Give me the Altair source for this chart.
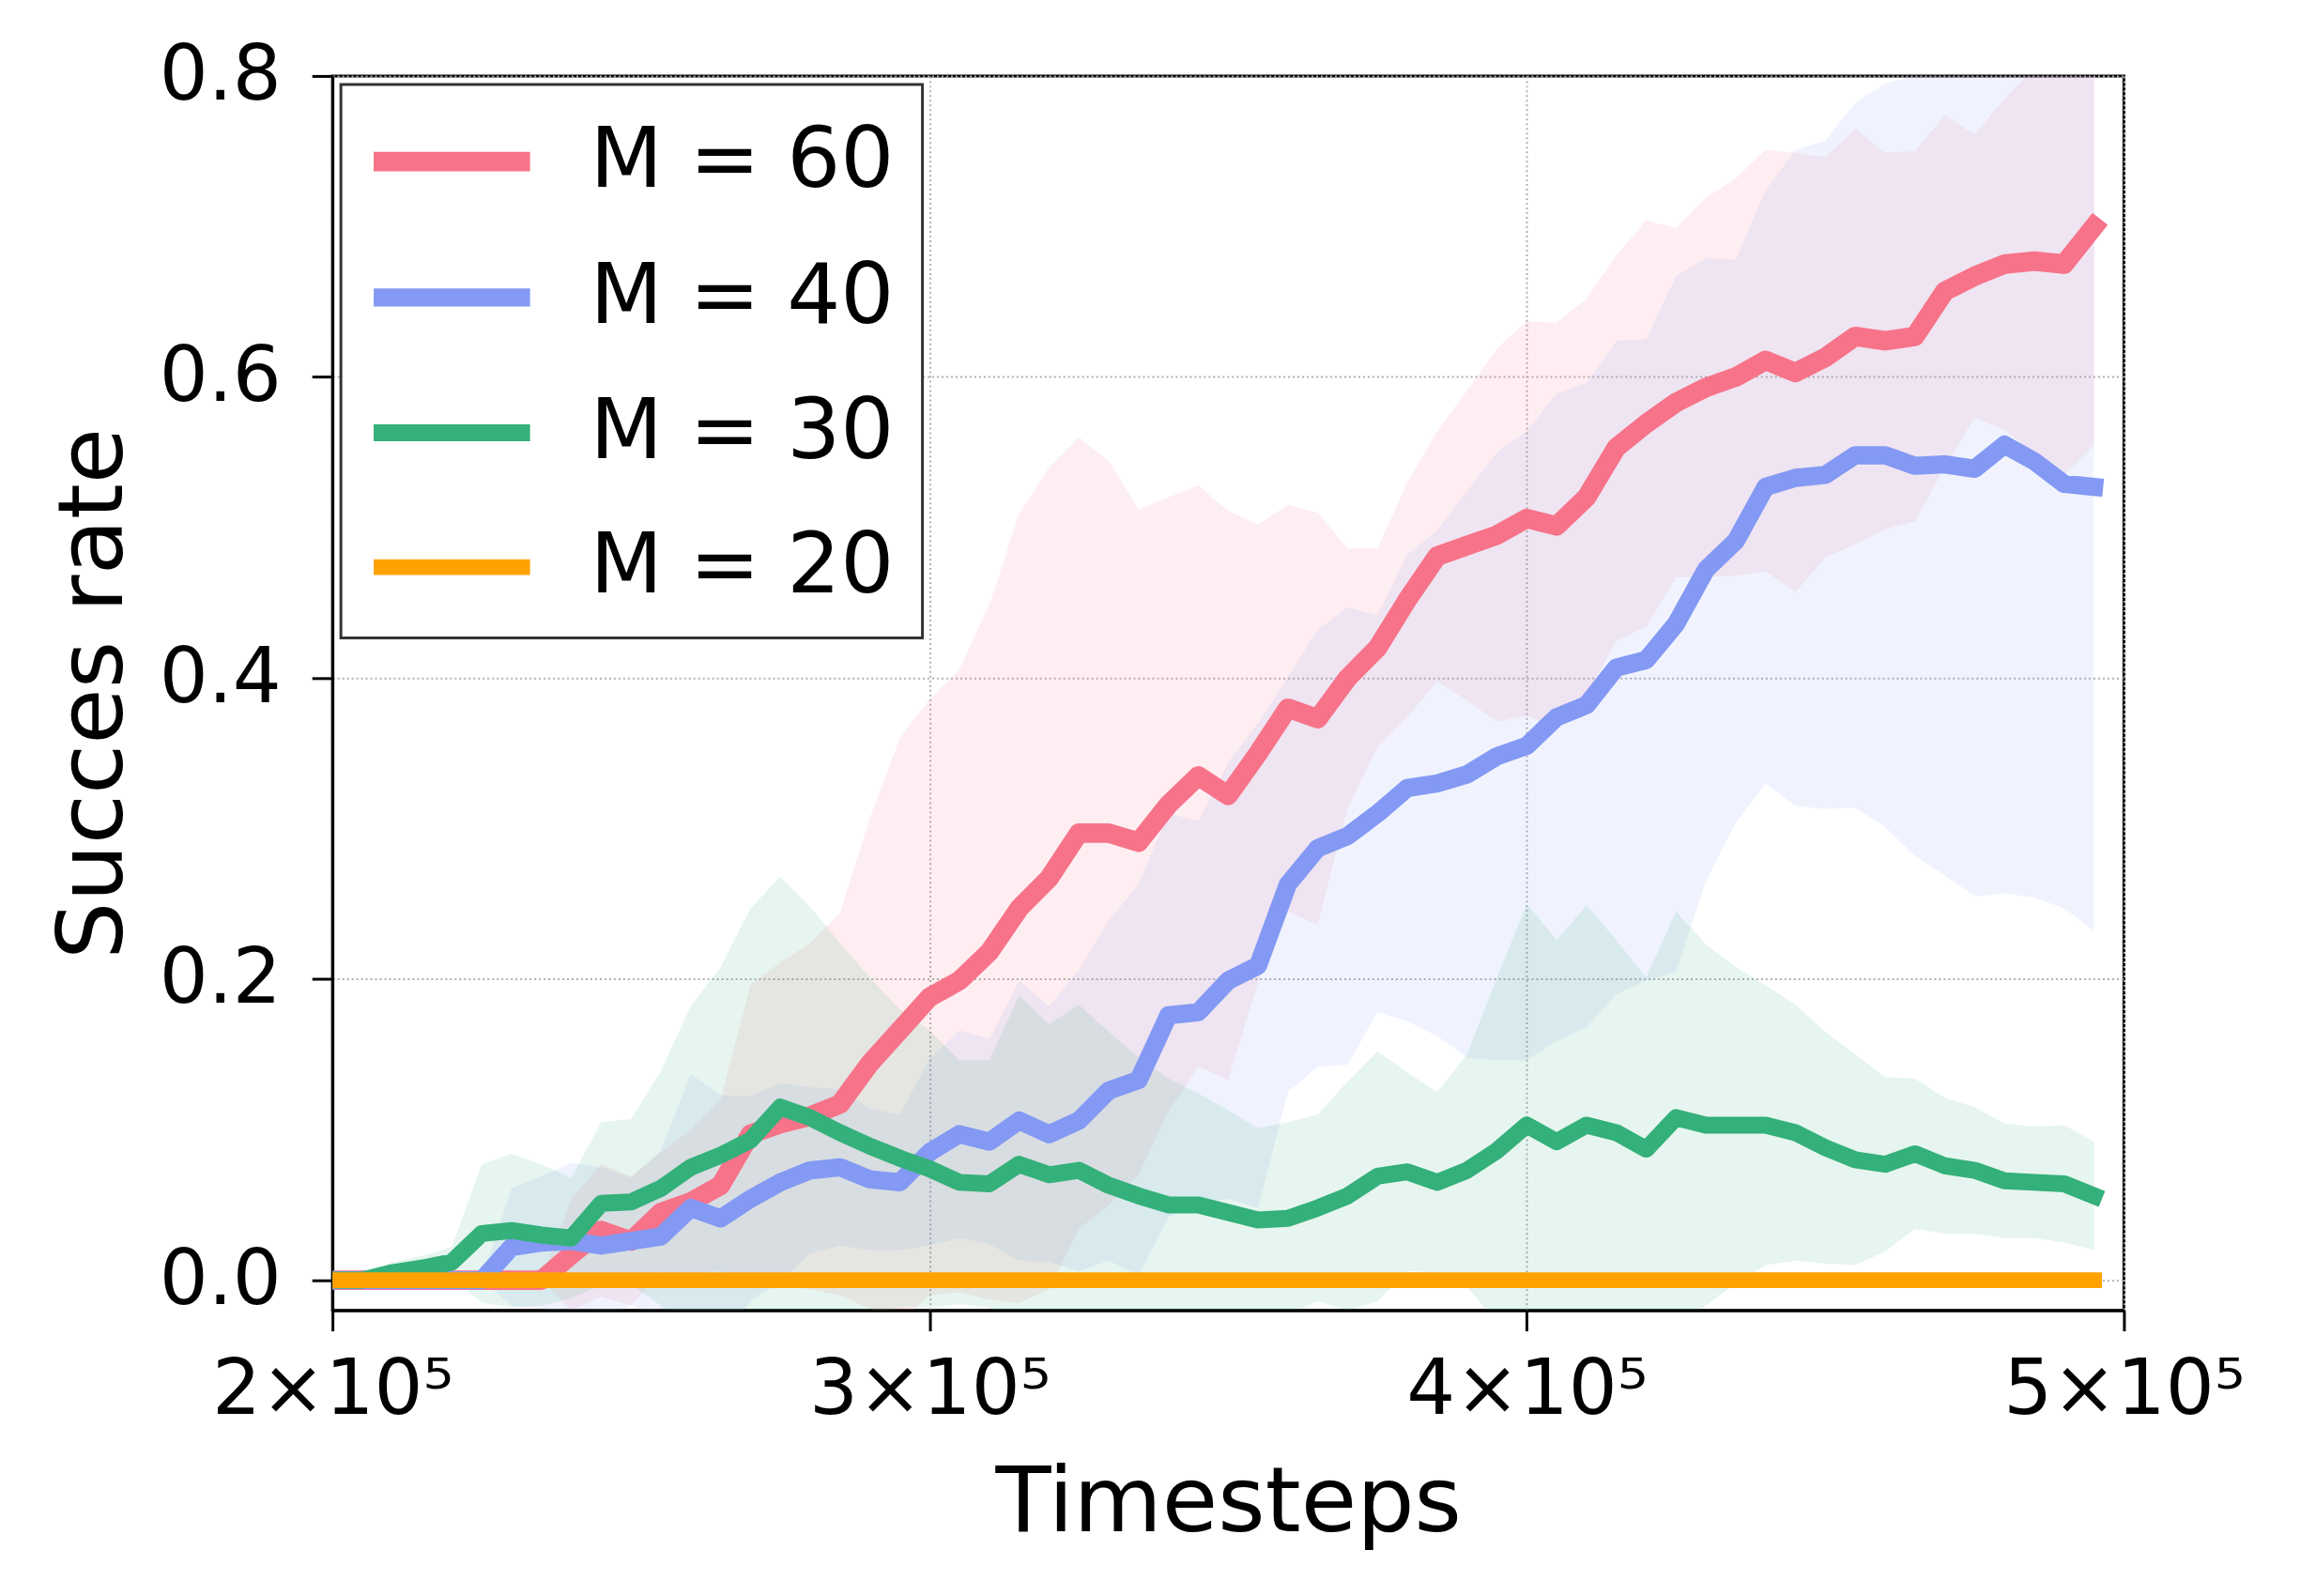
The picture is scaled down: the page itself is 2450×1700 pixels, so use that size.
import altair as alt
import pandas as pd

# ---------------- data ----------------
steps = list(range(200000, 500000, 5000))  # 60 evaluation points

names = ["M = 60", "M = 40", "M = 30", "M = 20"]
colors = ["#f7738a", "#8399f3", "#34b07a", "#ffa200"]
line_widths = [20.8, 16.7, 16.7, 16.7]

m60_mean = [0, 0, 0, 0, 0, 0, 0, 0, 0.017, 0.033,
            0.026, 0.045, 0.052, 0.063, 0.097, 0.104, 0.109, 0.117, 0.144, 0.166,
            0.188, 0.199, 0.218, 0.247, 0.267, 0.297, 0.297, 0.291, 0.316, 0.335,
            0.322, 0.350, 0.380, 0.373, 0.400, 0.420, 0.452, 0.481, 0.488, 0.495,
            0.506, 0.501, 0.520, 0.553, 0.569, 0.583, 0.593, 0.600, 0.611, 0.603,
            0.613, 0.627, 0.624, 0.627, 0.657, 0.667, 0.675, 0.677, 0.675, 0.700]
m60_std = [0, 0, 0, 0, 0, 0, 0, 0, 0.037, 0.044,
           0.043, 0.040, 0.048, 0.057, 0.099, 0.107, 0.115, 0.127, 0.163, 0.194,
           0.198, 0.207, 0.231, 0.262, 0.273, 0.263, 0.247, 0.221, 0.204, 0.193,
           0.189, 0.152, 0.135, 0.137, 0.086, 0.066, 0.078, 0.083, 0.103, 0.124,
           0.131, 0.135, 0.132, 0.128, 0.135, 0.116, 0.126, 0.132, 0.140, 0.146,
           0.133, 0.138, 0.125, 0.123, 0.117, 0.094, 0.110, 0.128, 0.140, 0.145]

m40_mean = [0, 0, 0, 0, 0, 0, 0.022, 0.025, 0.026, 0.023,
            0.026, 0.029, 0.048, 0.041, 0.054, 0.065, 0.073, 0.075, 0.067, 0.065,
            0.085, 0.097, 0.092, 0.106, 0.097, 0.106, 0.126, 0.133, 0.176, 0.178,
            0.199, 0.209, 0.263, 0.287, 0.295, 0.310, 0.327, 0.330, 0.336, 0.348,
            0.355, 0.374, 0.382, 0.407, 0.412, 0.436, 0.472, 0.491, 0.527, 0.533,
            0.535, 0.548, 0.548, 0.541, 0.542, 0.539, 0.555, 0.544, 0.529, 0.527]
m40_std = [0, 0, 0, 0, 0, 0, 0.039, 0.044, 0.052, 0.052,
           0.042, 0.057, 0.089, 0.082, 0.068, 0.066, 0.055, 0.052, 0.047, 0.045,
           0.062, 0.069, 0.068, 0.093, 0.085, 0.100, 0.113, 0.130, 0.134, 0.127,
           0.145, 0.161, 0.138, 0.145, 0.152, 0.132, 0.155, 0.168, 0.188, 0.202,
           0.209, 0.215, 0.214, 0.217, 0.213, 0.231, 0.207, 0.187, 0.197, 0.218,
           0.222, 0.234, 0.247, 0.259, 0.273, 0.284, 0.298, 0.290, 0.282, 0.295]

m30_mean = [0, 0, 0.005, 0.008, 0.012, 0.031, 0.033, 0.030, 0.028, 0.051,
            0.052, 0.061, 0.075, 0.083, 0.093, 0.115, 0.108, 0.098, 0.089, 0.081,
            0.074, 0.065, 0.064, 0.077, 0.070, 0.073, 0.063, 0.056, 0.050, 0.050,
            0.045, 0.040, 0.041, 0.048, 0.056, 0.069, 0.072, 0.065, 0.073, 0.086,
            0.103, 0.092, 0.103, 0.098, 0.087, 0.108, 0.103, 0.103, 0.103, 0.098,
            0.088, 0.080, 0.077, 0.084, 0.076, 0.073, 0.066, 0.065, 0.064, 0.056]
m30_std = [0, 0, 0.007, 0.008, 0.010, 0.046, 0.051, 0.047, 0.040, 0.054,
           0.055, 0.078, 0.107, 0.125, 0.154, 0.153, 0.140, 0.126, 0.112, 0.099,
           0.092, 0.081, 0.082, 0.112, 0.100, 0.110, 0.102, 0.092, 0.084, 0.074,
           0.068, 0.061, 0.064, 0.062, 0.076, 0.083, 0.066, 0.060, 0.077, 0.115,
           0.147, 0.134, 0.146, 0.128, 0.114, 0.137, 0.120, 0.105, 0.093, 0.085,
           0.077, 0.070, 0.058, 0.050, 0.045, 0.042, 0.038, 0.037, 0.039, 0.036]

m20_mean = [0.0] * 60
m20_std = [0.0] * 60

x_ticks = [200000, 300000, 400000, 500000]
y_ticks = [0.0, 0.2, 0.4, 0.6, 0.8]

# ---------------- table ----------------
rows = []
for k, (name, mean, std) in enumerate(zip(names,
                                          [m60_mean, m40_mean, m30_mean, m20_mean],
                                          [m60_std, m40_std, m30_std, m20_std])):
    for s, m, d in zip(steps, mean, std):
        rows.append({"series": name, "order": k, "step": s, "mean": m,
                     "lower": m - d, "upper": m + d})
df = pd.DataFrame(rows)

FONT = "DejaVu Sans"
W, H = 1913, 1318

xscale = alt.Scale(domain=[200000, 500000], nice=False, zero=False)
yscale = alt.Scale(domain=[-0.02, 0.8], nice=False, zero=False)
cscale = alt.Scale(domain=names, range=colors)

xaxis = alt.Axis(values=x_ticks,
                 labelExpr="format(datum.value / 100000, 'd') + '\u00d710\u2075'",
                 title="Timesteps", titleFontSize=97, titleFont=FONT,
                 titleFontWeight="normal", titleColor="black",
                 titleBaseline="alphabetic", titleY=235, titleX=W / 2,
                 labelFontSize=82, labelFont=FONT, labelColor="black",
                 labelBaseline="alphabetic", labelPadding=88, labelFlush=False,
                 labelOverlap=False, labelLimit=1000,
                 tickSize=22, tickWidth=3, tickColor="black",
                 domainColor="black", domainWidth=3,
                 grid=True, gridColor="#b0b0b0", gridDash=[2, 3], gridWidth=2)

yaxis = alt.Axis(values=y_ticks, format=".1f",
                 title="Succes rate", titleFontSize=97, titleFont=FONT,
                 titleFontWeight="normal", titleColor="black",
                 titleBaseline="alphabetic", titleX=-225, titleY=H / 2,
                 titleAngle=270,
                 labelFontSize=82, labelFont=FONT, labelColor="black",
                 labelPadding=33, labelFlush=False, labelOverlap=False,
                 labelLimit=1000,
                 tickSize=22, tickWidth=3, tickColor="black",
                 domainColor="black", domainWidth=3,
                 grid=True, gridColor="#b0b0b0", gridDash=[2, 3], gridWidth=2)

base = alt.Chart(df)

band_layers = []
for k, (name, c) in enumerate(zip(names, colors)):
    if k == 0:
        xe = alt.X("step:Q", scale=xscale, axis=xaxis)
        ye = alt.Y("lower:Q", scale=yscale, axis=yaxis)
    else:
        xe = alt.X("step:Q", scale=xscale)
        ye = alt.Y("lower:Q", scale=yscale)
    band_layers.append(
        base.transform_filter(alt.datum.series == name)
        .mark_area(color=c, opacity=0.12, clip=True)
        .encode(x=xe, y=ye, y2="upper:Q")
    )

legend = alt.Legend(
    title=None, orient="top-left", offset=9,
    symbolType="M-2,0L2,0", symbolSize=6972, symbolStrokeWidth=17,
    symbolOpacity=1, symbolOffset=36,
    labelFontSize=90, labelFont=FONT, labelColor="black",
    labelOffset=95, padding=30, rowPadding=48,
    strokeColor="#333333", fillColor="white", labelLimit=1000,
)

lines = base.mark_line(strokeCap="square", strokeJoin="round", clip=True).encode(
    x=alt.X("step:Q", scale=xscale),
    y=alt.Y("mean:Q", scale=yscale),
    color=alt.Color("series:N", scale=cscale, sort=names, legend=legend),
    strokeWidth=alt.StrokeWidth("series:N",
                                scale=alt.Scale(domain=names, range=line_widths),
                                legend=None),
    order=alt.Order("order:Q"),
)

chart = alt.layer(*band_layers, lines).properties(
    width=W, height=H,
    autosize=alt.AutoSizeParams(type="none"),
    padding={"left": 347, "top": 71, "right": 180, "bottom": 300},
    background="white",
).configure_view(
    stroke="black", strokeWidth=3
).configure_legend(strokeWidth=3)

chart.save("out.html", embed_options={"renderer": "svg", "actions": False})
